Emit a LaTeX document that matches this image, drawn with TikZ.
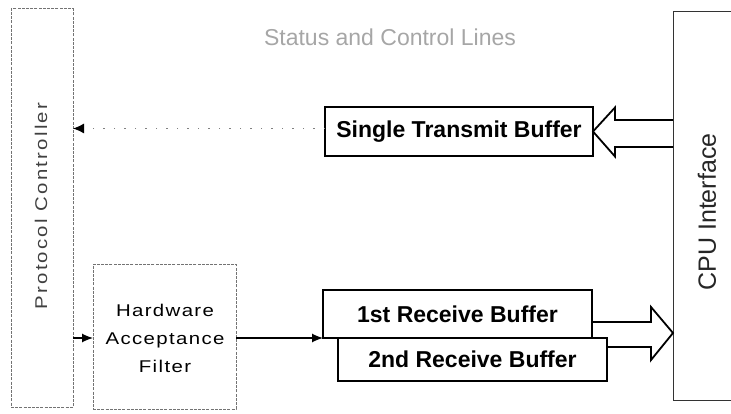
\documentclass[tikz,border=0pt]{standalone}
\usepackage{fontspec}
\setmainfont{Liberation Sans}
\usetikzlibrary{arrows.meta,calc}
\begin{document}
\begin{tikzpicture}[x=1pt,y=-1pt,
  faintbox/.style={draw=black!55,line width=1pt,dash pattern=on 3pt off 1.2pt,
    inner sep=0pt,outer sep=0pt,anchor=north west},
  bufbox/.style={draw=black,line width=2.2pt,fill=white,inner sep=0pt,outer sep=0pt,
    anchor=north west,font=\fontsize{23}{26}\selectfont\bfseries},
  cpubox/.style={draw=black!80,line width=1pt,inner sep=0pt,outer sep=0pt,anchor=north west},
  widetext/.style={font=\fontsize{17}{28}\selectfont\addfontfeature{FakeStretch=1.2,LetterSpace=#1}},
  hollowarrow/.style={draw=black,line width=1.8pt,line join=miter},
  sig/.style={draw=black,line width=1.2pt,-{Latex[length=11pt,width=9pt]}},
  ctrl/.style={draw=black!50,line width=1pt,dash pattern=on 1.5pt off 9pt,
    -{Latex[length=11pt,width=10pt,color=black]}}]
\useasboundingbox (0,0) rectangle (731,414);

% side blocks
\node[faintbox,minimum width=62pt,minimum height=398pt] (pc) at (11,9) {};
\node[rotate=90,text=black!75,widetext=13] (pctext) at (41,206) {Protocol Controller};

\node[cpubox,minimum width=80pt,minimum height=388pt] (cpu) at (673,12) {};
\node[rotate=90,text=black!85,font=\fontsize{25}{28}\selectfont] (cputext) at (707,212) {CPU Interface};

\node[text=black!35,font=\fontsize{23}{26}\selectfont] (status) at (390,37) {Status and Control Lines};

% acceptance filter
\node[faintbox,minimum width=143pt,minimum height=145pt] (haf) at (93,264) {};
\node[align=center,widetext=8] (haftext) at (165,338) {Hardware\\Acceptance\\Filter};

% buffers
\node[bufbox,minimum width=268pt,minimum height=49pt] (tx) at (325,107) {Single Transmit Buffer};
\node[bufbox,minimum width=269pt,minimum height=43pt] (rx2) at (338,338) {2nd Receive Buffer};
\node[bufbox,minimum width=269pt,minimum height=48pt] (rx1) at (323,290) {1st Receive Buffer};

% transmit path: CPU -> buffer (hollow), buffer -> controller (control line)
\path (tx.east) ++(22,-11.5) coordinate (ta1);
\path (tx.east) ++(22,15.5) coordinate (ta2);
\draw[hollowarrow] (cpu.west |- ta1) -- (ta1) -- ++(0,-12.5) -- (tx.east) -- ++(22,25) -- (ta2) -- (cpu.west |- ta2);
\draw[ctrl] ([yshift=3pt]tx.west) -- ([yshift=3pt]pc.east |- tx.west);

% receive path
\draw[sig] (pc.east |- rx1.south west) -- (haf.west |- rx1.south west);
\draw[sig] (haf.east |- rx1.south west) -- (rx1.south west);
\coordinate (rtip) at ([yshift=5pt]cpu.west |- rx1.south);
\path (rtip) ++(-22,-11) coordinate (ra1);
\path (rtip) ++(-22,14) coordinate (ra2);
\draw[hollowarrow] (rx1.east |- ra1) -- (ra1) -- ++(0,-15) -- (rtip) -- ++(-22,27) -- (ra2) -- (rx2.east |- ra2);
\end{tikzpicture}
\end{document}
